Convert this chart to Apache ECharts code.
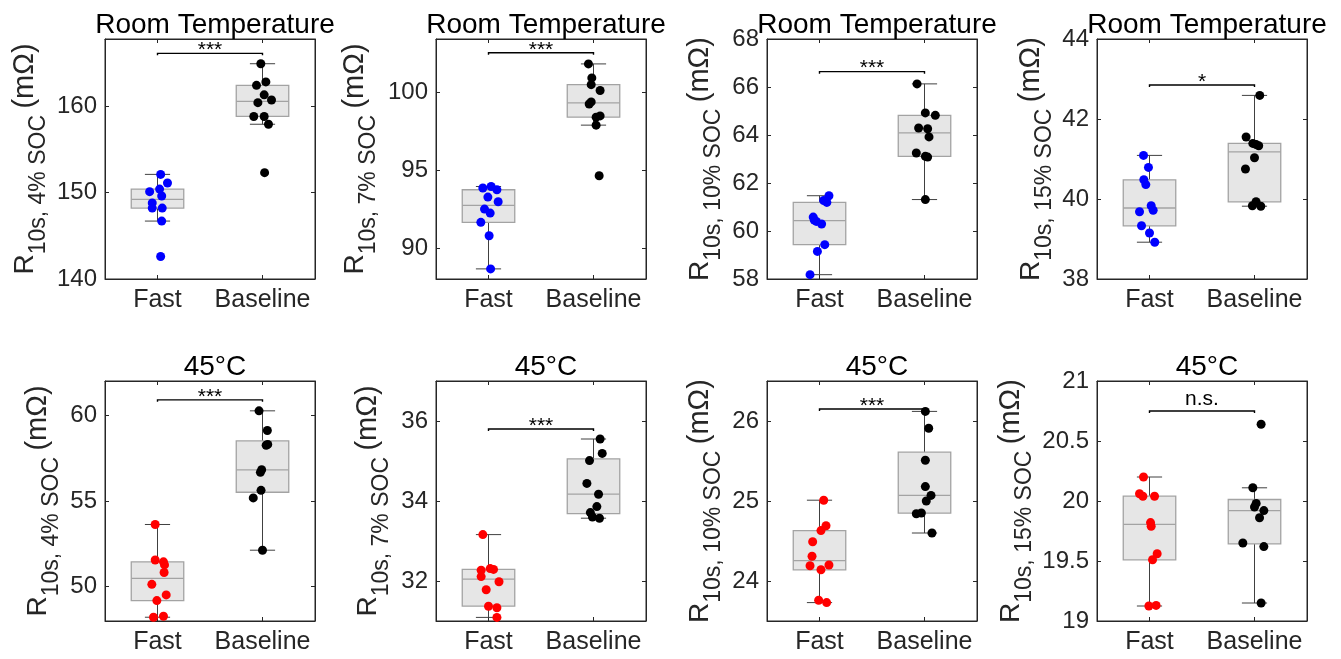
<!DOCTYPE html>
<html><head><meta charset="utf-8">
<script src="https://cdn.jsdelivr.net/npm/echarts@6/dist/echarts.min.js"></script>
<style>html,body{margin:0;padding:0;background:#fff}#c{width:1341px;height:659px}</style>
</head><body><div id="c"></div>
<script>
// ---------- data ----------
const categories = ['Fast', 'Baseline'];
const titles = ['Room Temperature','Room Temperature','Room Temperature','Room Temperature','45°C','45°C','45°C','45°C'];
const socLabels = ['4%','7%','10%','15%','4%','7%','10%','15%'];
const sigLabels = ['***','***','***','*','***','***','***','n.s.'];
const bracketY = [166.1, 102.56, 66.64, 42.85, 60.9, 35.8, 26.15, 20.75];
const yMin = [140, 88.03, 58, 38, 48, 31, 23.5, 19];
const yMax = [167.76, 103.44, 68, 44, 62, 37, 26.5, 21];
const yTicks1 = [140, 150, 160];
const yTicks2 = [90, 95, 100];
const yTicks3 = [58, 60, 62, 64, 66, 68];
const yTicks4 = [38, 40, 42, 44];
const yTicks5 = [50, 55, 60];
const yTicks6 = [32, 34, 36];
const yTicks7 = [24, 25, 26];
const yTicks8 = [19, 19.5, 20, 20.5, 21];

const p1Fast = [142.6, 146.7, 148.2, 148.2, 148.8, 149.6, 150.1, 150.4, 151.1, 152.1];
const p1FastJit = [0.03, 0.04, -0.05, 0.045, -0.05, 0.04, -0.075, 0.02, 0.095, 0.03];
const p1Base = [152.3, 157.9, 158.8, 158.8, 160.4, 160.7, 161.3, 162.4, 162.8, 164.9];
const p1BaseJit = [0.02, 0.057, -0.083, 0.016, -0.044, 0.086, 0.016, -0.057, 0.032, -0.016];

const p2Fast = [88.68, 90.81, 91.67, 92.26, 92.52, 92.99, 93.29, 93.76, 93.87, 93.97];
const p2FastJit = [0.02, 0.006, -0.073, 0.016, -0.038, 0.092, -0.006, 0.08, -0.054, 0.025];
const p2Base = [94.66, 97.91, 98.42, 98.50, 99.27, 99.40, 100.13, 100.51, 100.94, 101.84];
const p2BaseJit = [0.054, 0.025, 0.025, 0.063, -0.041, -0.022, 0.063, -0.022, -0.016, -0.048];

const p3Fast = [58.18, 59.15, 59.43, 60.29, 60.40, 60.46, 60.58, 61.19, 61.27, 61.47];
const p3FastJit = [-0.09, -0.02, 0.05, 0.02, -0.03, -0.05, -0.06, 0.07, 0.04, 0.09];
const p3Base = [61.31, 63.08, 63.11, 63.25, 63.92, 64.26, 64.29, 64.82, 64.92, 66.13];
const p3BaseJit = [0.008, 0.03, 0.008, -0.078, 0.043, 0.03, -0.056, 0.103, 0.008, -0.071];

const p4Fast = [38.92, 39.15, 39.33, 39.68, 39.72, 39.83, 40.36, 40.48, 40.79, 41.09];
const p4FastJit = [0.05, 0, -0.076, -0.095, 0.035, 0.016, -0.035, -0.054, -0.01, -0.057];
const p4Base = [39.82, 39.83, 39.93, 40.75, 41.03, 41.33, 41.36, 41.39, 41.55, 42.59];
const p4BaseJit = [0.06, -0.02, 0.015, -0.086, 0, 0.04, 0.016, -0.016, -0.08, 0.05];

const p5Fast = [48.22, 48.28, 49.19, 49.52, 50.14, 50.83, 51.27, 51.45, 51.56, 53.63];
const p5FastJit = [-0.038, 0.057, -0.006, 0.083, -0.054, 0.063, 0.067, 0.057, -0.022, -0.022];
const p5Base = [52.13, 55.18, 55.62, 56.67, 56.82, 58.25, 58.30, 59.11, 60.26];
const p5BaseJit = [0, -0.088, -0.014, -0.02, -0.008, 0.035, 0.05, 0.046, -0.033];

const p6Fast = [31.09, 31.33, 31.37, 31.78, 31.98, 32.11, 32.27, 32.29, 32.31, 33.16];
const p6FastJit = [0.08, 0.08, 0, -0.022, 0.1, -0.07, -0.07, 0.048, 0.016, -0.054];
const p6Base = [33.57, 33.60, 33.71, 33.86, 34.17, 34.44, 35.01, 35.19, 35.55];
const p6BaseJit = [0.057, -0.01, -0.03, 0.032, 0.048, -0.063, -0.038, 0.083, 0.063];

const p7Fast = [23.73, 23.76, 24.14, 24.19, 24.20, 24.31, 24.49, 24.63, 24.69, 25.01];
const p7FastJit = [0.068, -0.008, 0.014, -0.09, 0.09, -0.071, -0.065, 0.014, 0.062, 0.04];
const p7Base = [24.60, 24.84, 24.85, 25.00, 25.07, 25.18, 25.51, 25.91, 26.12];
const p7BaseJit = [0.071, -0.078, -0.03, 0.017, 0.062, 0.008, 0.008, 0.04, 0.008];

const p8Fast = [19.125, 19.13, 19.51, 19.56, 19.79, 19.82, 20.04, 20.04, 20.06, 20.20];
const p8FastJit = [-0.006, 0.063, 0.029, 0.073, 0.016, 0.01, -0.063, 0.048, -0.095, -0.057];
const p8Base = [19.15, 19.62, 19.65, 19.86, 19.92, 19.95, 19.98, 20.11, 20.64];
const p8BaseJit = [0.063, 0.089, -0.111, 0.048, 0.089, 0, 0.016, -0.016, 0.063];

// ---------- assembly ----------
const panels = [
  {fast: p1Fast, fj: p1FastJit, base: p1Base, bj: p1BaseJit, ticks: yTicks1},
  {fast: p2Fast, fj: p2FastJit, base: p2Base, bj: p2BaseJit, ticks: yTicks2},
  {fast: p3Fast, fj: p3FastJit, base: p3Base, bj: p3BaseJit, ticks: yTicks3},
  {fast: p4Fast, fj: p4FastJit, base: p4Base, bj: p4BaseJit, ticks: yTicks4},
  {fast: p5Fast, fj: p5FastJit, base: p5Base, bj: p5BaseJit, ticks: yTicks5},
  {fast: p6Fast, fj: p6FastJit, base: p6Base, bj: p6BaseJit, ticks: yTicks6},
  {fast: p7Fast, fj: p7FastJit, base: p7Base, bj: p7BaseJit, ticks: yTicks7},
  {fast: p8Fast, fj: p8FastJit, base: p8Base, bj: p8BaseJit, ticks: yTicks8}
];

const FONT = '"Liberation Sans", Arial, Helvetica, sans-serif';
const AX = '#262626';
const gridLefts = [105, 436, 767, 1097];
const gridTops = [39, 381];
const GW = 210, GH = 240;
const nameGaps = [55, 56, 42, 41, 42, 43, 42, 61];

// MATLAB-style quantile
function quant(s, p) {
  const n = s.length, pos = n * p + 0.5;
  if (pos <= 1) return s[0];
  if (pos >= n) return s[n - 1];
  const i = Math.floor(pos), f = pos - i;
  return s[i - 1] + f * (s[i] - s[i - 1]);
}
function boxStats(x, vals) {
  const s = vals.slice().sort((a, b) => a - b);
  const q1 = quant(s, 0.25), md = quant(s, 0.5), q3 = quant(s, 0.75);
  const iqr = q3 - q1;
  const lo = Math.min(...s.filter(v => v >= q1 - 1.5 * iqr));
  const hi = Math.max(...s.filter(v => v <= q3 + 1.5 * iqr));
  return [x, lo, q1, md, q3, hi];
}

function renderBox(params, api) {
  const x = api.value(0);
  const lo = api.coord([x, api.value(1)]);
  const q1 = api.coord([x, api.value(2)]);
  const md = api.coord([x, api.value(3)]);
  const q3 = api.coord([x, api.value(4)]);
  const hi = api.coord([x, api.value(5)]);
  const hw = api.size([0.25, 0])[0];
  const cw = api.size([0.12, 0])[0];
  const cx = lo[0];
  const wl = {stroke: '#404040', lineWidth: 1};
  const bl = {stroke: '#A3A3A3', lineWidth: 1.3};
  return {type: 'group', children: [
    {type: 'line', shape: {x1: cx, y1: hi[1], x2: cx, y2: q3[1]}, style: wl},
    {type: 'line', shape: {x1: cx, y1: q1[1], x2: cx, y2: lo[1]}, style: wl},
    {type: 'line', shape: {x1: cx - cw, y1: hi[1], x2: cx + cw, y2: hi[1]}, style: wl},
    {type: 'line', shape: {x1: cx - cw, y1: lo[1], x2: cx + cw, y2: lo[1]}, style: wl},
    {type: 'rect', shape: {x: cx - hw, y: q3[1], width: 2 * hw, height: q1[1] - q3[1]},
      style: {fill: '#E6E6E6', stroke: '#A3A3A3', lineWidth: 1.3}},
    {type: 'line', shape: {x1: cx - hw, y1: md[1], x2: cx + hw, y2: md[1]}, style: bl}
  ]};
}

function makeBracketRenderer(label) {
  return function (params, api) {
    const a = api.coord([api.value(0), api.value(2)]);
    const b = api.coord([api.value(1), api.value(2)]);
    const star = /^\*+$/.test(label);
    return {type: 'group', children: [
      {type: 'polyline', shape: {points: [[a[0], a[1] + 2], [a[0], a[1]], [b[0], b[1]], [b[0], b[1] + 2]]},
        style: {stroke: '#000', lineWidth: 1.4, fill: null}},
      {type: 'text', x: (a[0] + b[0]) / 2, y: star ? a[1] - 3 : a[1] - 12,
        style: {text: label, fill: '#000', fontSize: 21, fontFamily: FONT, align: 'center', verticalAlign: 'middle'}}
    ]};
  };
}

const option = {
  backgroundColor: '#fff',
  animation: false,
  title: [], grid: [], xAxis: [], yAxis: [], series: []
};

panels.forEach((p, i) => {
  const col = i % 4, row = Math.floor(i / 4);
  const left = gridLefts[col], top = gridTops[row];
  option.grid.push({left: left, top: top, width: GW, height: GH, show: true,
    borderColor: AX, borderWidth: 1, backgroundColor: 'transparent', containLabel: false});
  option.title.push({text: titles[i], left: left + GW / 2, top: top - 33, textAlign: 'center',
    textStyle: {fontSize: 28, fontWeight: 'normal', color: '#000', fontFamily: FONT, lineHeight: 28}});
  const xi = option.xAxis.length;
  option.xAxis.push({type: 'category', gridIndex: i, data: categories, position: 'bottom', boundaryGap: true,
    axisLine: {show: true, lineStyle: {color: AX, width: 1}},
    axisTick: {show: true, inside: true, alignWithLabel: true, length: 4, interval: 0, lineStyle: {color: AX}},
    axisLabel: {fontSize: 25, color: AX, fontFamily: FONT, margin: 9, interval: 0, hideOverlap: false},
    splitLine: {show: false}});
  option.xAxis.push({type: 'category', gridIndex: i, data: categories, position: 'top', boundaryGap: true,
    axisLine: {show: true, lineStyle: {color: AX, width: 1}},
    axisTick: {show: true, inside: true, alignWithLabel: true, length: 4, interval: 0, lineStyle: {color: AX}},
    axisLabel: {show: false, interval: 0}, splitLine: {show: false}});
  option.xAxis.push({type: 'value', gridIndex: i, min: 0.5, max: 2.5, show: false, splitLine: {show: false}});
  const yi = option.yAxis.length;
  const subText = '10s, ' + socLabels[i] + ' SOC ';
  option.yAxis.push({type: 'value', gridIndex: i, min: yMin[i], max: yMax[i], position: 'left',
    axisLine: {show: true, lineStyle: {color: AX, width: 1}},
    axisTick: {show: true, inside: true, length: 4, customValues: p.ticks, lineStyle: {color: AX}},
    axisLabel: {fontSize: 24, color: AX, fontFamily: FONT, margin: 8, customValues: p.ticks,
      showMinLabel: true, showMaxLabel: true},
    splitLine: {show: false},
    name: '{r|R}{s|' + subText + '}{u|(mΩ)}',
    nameLocation: 'middle', nameGap: nameGaps[i], nameRotate: 90,
    nameTextStyle: {color: AX, fontFamily: FONT,
      rich: {
        r: {fontSize: 28, height: 30, verticalAlign: 'top', color: AX, fontFamily: FONT},
        u: {fontSize: 29, height: 30, verticalAlign: 'top', color: AX, fontFamily: FONT},
        s: {fontSize: 23, height: 23, verticalAlign: 'bottom', padding: [17, 0, 0, 0], color: AX, fontFamily: FONT}
      }}});
  option.yAxis.push({type: 'value', gridIndex: i, min: yMin[i], max: yMax[i], position: 'right',
    axisLine: {show: true, lineStyle: {color: AX, width: 1}},
    axisTick: {show: true, inside: true, length: 4, customValues: p.ticks, lineStyle: {color: AX}},
    axisLabel: {show: false}, splitLine: {show: false}});

  const fastColor = row === 0 ? '#0000FF' : '#FF0000';
  option.series.push({type: 'custom', xAxisIndex: xi + 2, yAxisIndex: yi, z: 2,
    renderItem: renderBox, encode: {x: 0, y: [1, 2, 3, 4, 5]},
    data: [boxStats(1, p.fast), boxStats(2, p.base)], silent: true});
  option.series.push({type: 'scatter', xAxisIndex: xi + 2, yAxisIndex: yi, z: 4, symbolSize: 9,
    itemStyle: {color: fastColor, opacity: 1},
    data: p.fast.map((v, k) => [1 + p.fj[k], v]), silent: true});
  option.series.push({type: 'scatter', xAxisIndex: xi + 2, yAxisIndex: yi, z: 4, symbolSize: 9,
    itemStyle: {color: '#000000', opacity: 1},
    data: p.base.map((v, k) => [2 + p.bj[k], v]), silent: true});
  option.series.push({type: 'custom', xAxisIndex: xi + 2, yAxisIndex: yi, z: 5,
    renderItem: makeBracketRenderer(sigLabels[i]), encode: {x: [0, 1], y: 2},
    data: [[1, 2, bracketY[i]]], silent: true});
});

const chart = echarts.init(document.getElementById('c'), null, {renderer: 'canvas'});
chart.setOption(option);
</script>
</body></html>
